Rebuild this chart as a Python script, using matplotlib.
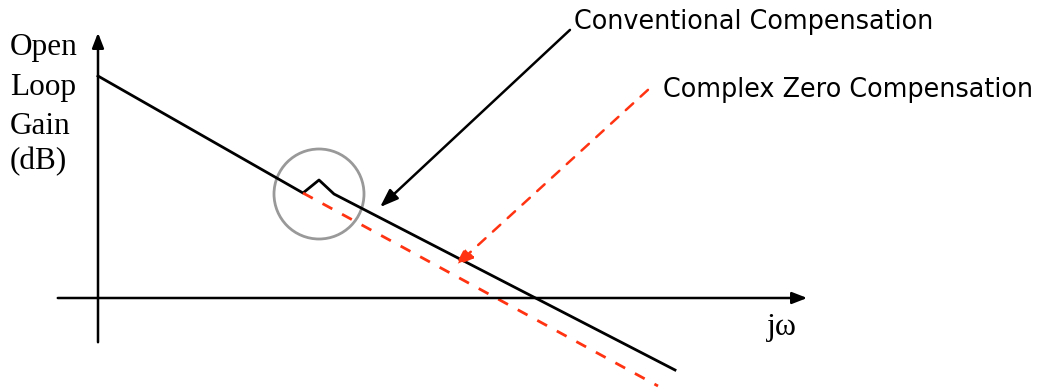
import matplotlib.pyplot as plt
from matplotlib.patches import Circle

# Pixel-space sketch coordinates (x right, y down)
conv_x = [98, 303, 319, 334, 675]
conv_y = [76, 193, 180, 194, 370]
cz_x = [303, 658]
cz_y = [193, 386]

ylabel_lines = ["Open", "Loop", "Gain", "(dB)"]
ylabel_y = [48, 88, 127, 162]
conv_label = "Conventional Compensation"
cz_label = "Complex Zero Compensation"
red = "#ff3311"

fig = plt.figure(figsize=(10.42, 3.90), dpi=100)
ax = fig.add_axes([0, 0, 1, 1])
ax.set_xlim(0, 1042)
ax.set_ylim(390, 0)
ax.axis("off")

# axes arrows
ax.annotate("", xy=(98, 30), xytext=(98, 345),
            arrowprops=dict(arrowstyle="-|>,head_length=0.9,head_width=0.35", color="black", lw=1.8))
ax.annotate("", xy=(810, 298), xytext=(55, 298),
            arrowprops=dict(arrowstyle="-|>,head_length=0.9,head_width=0.35", color="black", lw=1.8))

# curves
ax.plot(conv_x, conv_y, color="black", lw=2)
ax.plot(cz_x, cz_y, color=red, lw=2, dashes=(4, 4))

# circle around the kink
ax.add_patch(Circle((319, 194), 45, fill=False, ec="#999999", lw=2))

# pointer arrows
ax.annotate("", xy=(378, 209), xytext=(572, 28),
            arrowprops=dict(arrowstyle="-|>,head_length=1.1,head_width=0.4", color="black", lw=1.8))
ax.annotate("", xy=(453, 268), xytext=(650, 88),
            arrowprops=dict(arrowstyle="-|>,head_length=1.1,head_width=0.4", color=red, lw=1.8,
                            linestyle=(0, (4, 4))))

# labels
ax.text(574, 22, conv_label, fontsize=18.4, family="DejaVu Sans", va="center", ha="left")
ax.text(663, 90, cz_label, fontsize=18.4, family="DejaVu Sans", va="center", ha="left")
for s, y in zip(ylabel_lines, ylabel_y):
    ax.text(10, y, s, fontsize=22.5, family="Liberation Serif", va="center", ha="left")
ax.text(767, 327, "jω", fontsize=23, family="Liberation Serif", va="center", ha="left")

fig.savefig("out.png", dpi=100)
